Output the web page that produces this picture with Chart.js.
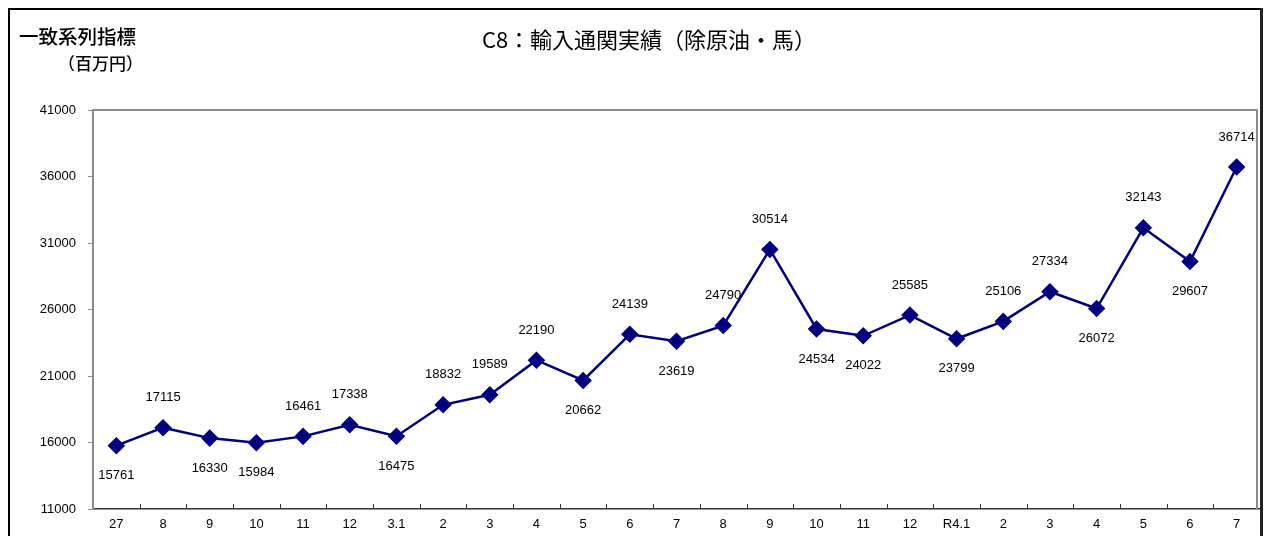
<!DOCTYPE html>
<html>
<head>
<meta charset="utf-8">
<script src="https://cdn.jsdelivr.net/npm/chart.js@4/dist/chart.umd.min.js"></script>
<style>
  html, body { margin: 0; padding: 0; background: #fff; overflow: hidden; }
  #wrap { width: 1265px; height: 536px; position: relative; }
  canvas { display: block; }
</style>
</head>
<body>
<div id="wrap"><canvas id="c8"></canvas></div>
<script>
// 月次ラベルと値
var meses = ["27", "8", "9", "10", "11", "12", "3.1", "2", "3", "4", "5", "6", "7",
             "8", "9", "10", "11", "12", "R4.1", "2", "3", "4", "5", "6", "7"];
var valores = [15761, 17115, 16330, 15984, 16461, 17338, 16475, 18832, 19589, 22190,
               20662, 24139, 23619, 24790, 30514, 24534, 24022, 25585, 23799, 25106,
               27334, 26072, 32143, 29607, 36714];
// label above (1) or below (-1) the point
var ladoRotulo = [-1, 1, -1, -1, 1, 1, -1, 1, 1, 1, -1, 1, -1, 1, 1, -1, -1, 1, -1, 1, 1, -1, 1, -1, 1];
var yTicks = [11000, 16000, 21000, 26000, 31000, 36000, 41000];

var fonte = "'Liberation Sans', Arial, sans-serif";
var fonteJP = "'Noto Sans CJK JP', sans-serif";

// textos, moldura e rotulos
var extras = {
  id: 'extras',
  afterDraw: function (chart) {
    var ctx = chart.ctx;
    var a = chart.chartArea;
    var xs = chart.scales.x;
    ctx.save();

    // outer frame
    ctx.strokeStyle = '#000';
    ctx.lineWidth = 2;
    ctx.beginPath();
    ctx.moveTo(9, 560); ctx.lineTo(9, 9); ctx.lineTo(1260, 9);
    ctx.stroke();

    // plot box top / right
    ctx.strokeStyle = '#8c8c8c';
    ctx.lineWidth = 2;
    ctx.beginPath();
    ctx.moveTo(a.left, a.top); ctx.lineTo(1257, a.top); ctx.lineTo(1257, a.bottom);
    ctx.stroke();

    ctx.strokeStyle = '#222';
    ctx.lineWidth = 3;
    ctx.beginPath();
    ctx.moveTo(1261.5, 8); ctx.lineTo(1261.5, 560);
    ctx.stroke();

    // x ticks between categories (pointing up)
    ctx.strokeStyle = '#333';
    ctx.lineWidth = 1;
    ctx.beginPath();
    for (var i = 1; i < meses.length; i++) {
      var xm = Math.round((xs.getPixelForTick(i - 1) + xs.getPixelForTick(i)) / 2) + 0.5;
      ctx.moveTo(xm, a.bottom); ctx.lineTo(xm, a.bottom - 5);
    }
    ctx.stroke();

    // data labels
    ctx.fillStyle = '#000';
    ctx.font = '13px ' + fonte;
    ctx.textAlign = 'center';
    ctx.textBaseline = 'middle';
    var meta = chart.getDatasetMeta(0);
    meta.data.forEach(function (pt, k) {
      ctx.fillText(String(valores[k]), pt.x, pt.y - ladoRotulo[k] * 30);
    });

    // title
    ctx.font = '22px ' + fonteJP;
    ctx.fillText('C8：輸入通関実績（除原油・馬）', 649, 40);

    // axis title
    ctx.textAlign = 'left';
    ctx.font = '500 19.5px ' + fonteJP;
    ctx.fillText('一致系列指標', 19, 37);
    ctx.font = '500 17px ' + fonteJP;
    ctx.fillText('（百万円）', 58, 64);

    ctx.restore();
  }
};

new Chart(document.getElementById('c8'), {
  type: 'line',
  data: {
    labels: meses,
    datasets: [{
      data: valores,
      borderColor: '#000080',
      backgroundColor: '#000080',
      borderWidth: 2.5,
      pointStyle: 'rectRot',
      pointRadius: 7,
      pointHoverRadius: 7,
      tension: 0
    }]
  },
  options: {
    responsive: true,
    maintainAspectRatio: false,
    animation: false,
    layout: { autoPadding: false, padding: { top: 110, right: 5, bottom: 0, left: 0 } },
    plugins: {
      legend: { display: false },
      title: { display: false },
      tooltip: { enabled: false }
    },
    scales: {
      x: {
        offset: true,
        grid: { display: false, drawTicks: false },
        border: { display: true, color: '#333', width: 1.5 },
        ticks: { color: '#000', font: { size: 13, family: fonte }, padding: 8, maxRotation: 0, autoSkip: false },
        afterFit: function (s) { s.height = 27; s.paddingLeft = 0; s.paddingRight = 0; }
      },
      y: {
        min: 11000,
        max: 41000,
        afterBuildTicks: function (s) { s.ticks = yTicks.map(function (v) { return { value: v }; }); },
        grid: { drawOnChartArea: false, drawTicks: true, tickLength: 5, color: '#8c8c8c' },
        border: { display: true, color: '#8c8c8c', width: 2 },
        ticks: {
          color: '#000', font: { size: 13, family: fonte }, padding: 12,
          callback: function (v) { return String(v); }
        },
        afterFit: function (s) { s.width = 93; }
      }
    }
  },
  plugins: [extras]
});
</script>
</body>
</html>
